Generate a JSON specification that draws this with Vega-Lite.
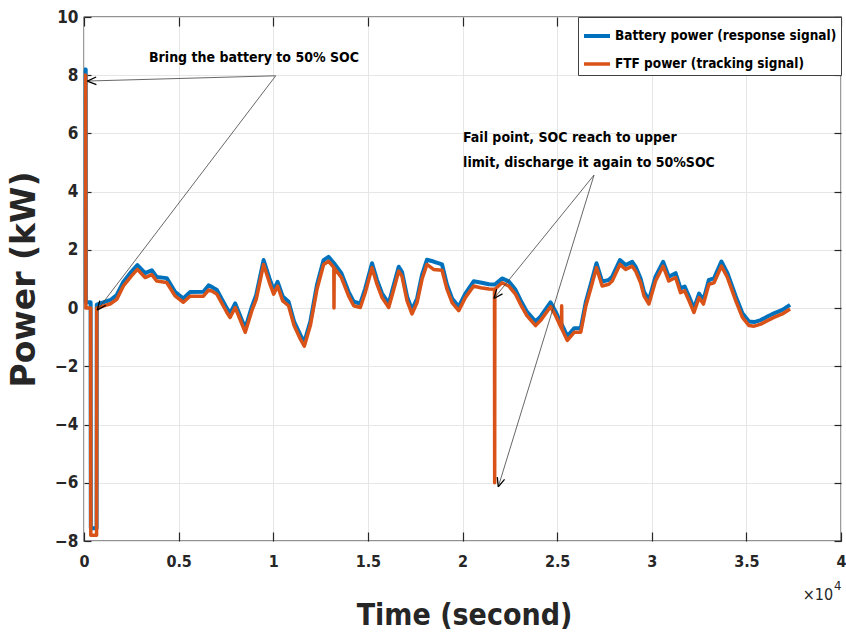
{
  "$schema": "https://vega.github.io/schema/vega-lite/v6.json",
  "width": 757,
  "height": 524,
  "autosize": {"type": "none"},
  "padding": {"left": 84, "top": 17, "right": 5, "bottom": 100},
  "background": "white",
  "config": {
    "view": {"stroke": "#262626", "strokeWidth": 1.3},
    "font": "DejaVu Sans Condensed, Liberation Sans, sans-serif"
  },
  "datasets": {
    "power": [
      {"t": 0, "b": 8.2, "f": 8.0},
      {"t": 90, "b": 8.2, "f": 8.0},
      {"t": 100, "b": 0.2, "f": 0.0},
      {"t": 350, "b": 0.2, "f": 0.0},
      {"t": 360, "b": -7.56, "f": -7.8},
      {"t": 665, "b": -7.56, "f": -7.8},
      {"t": 675, "b": 0.12, "f": 0.0},
      {"t": 1020, "b": 0.2, "f": 0.07},
      {"t": 1400, "b": 0.28, "f": 0.15},
      {"t": 1730, "b": 0.45, "f": 0.3},
      {"t": 2080, "b": 0.9, "f": 0.76},
      {"t": 2500, "b": 1.25, "f": 1.1},
      {"t": 2820, "b": 1.48, "f": 1.33},
      {"t": 3230, "b": 1.2, "f": 1.05},
      {"t": 3580, "b": 1.3, "f": 1.15},
      {"t": 3840, "b": 1.07, "f": 0.93},
      {"t": 4370, "b": 1.03, "f": 0.88},
      {"t": 4810, "b": 0.56, "f": 0.42},
      {"t": 5250, "b": 0.33, "f": 0.2},
      {"t": 5600, "b": 0.55, "f": 0.41},
      {"t": 6310, "b": 0.56, "f": 0.41},
      {"t": 6580, "b": 0.78, "f": 0.62},
      {"t": 6750, "b": 0.73, "f": 0.59},
      {"t": 7020, "b": 0.62, "f": 0.48},
      {"t": 7550, "b": -0.01, "f": -0.15},
      {"t": 7720, "b": -0.18, "f": -0.32},
      {"t": 7990, "b": 0.16, "f": 0.02},
      {"t": 8520, "b": -0.7, "f": -0.83},
      {"t": 8870, "b": 0.05, "f": -0.09},
      {"t": 9100, "b": 0.45, "f": 0.3},
      {"t": 9490, "b": 1.65, "f": 1.5},
      {"t": 9800, "b": 1.02, "f": 0.87},
      {"t": 10020, "b": 0.62, "f": 0.48},
      {"t": 10230, "b": 0.9, "f": 0.76},
      {"t": 10500, "b": 0.4, "f": 0.25},
      {"t": 10810, "b": 0.22, "f": 0.08},
      {"t": 11100, "b": -0.46, "f": -0.6},
      {"t": 11430, "b": -0.92, "f": -1.06},
      {"t": 11640, "b": -1.17, "f": -1.31},
      {"t": 11960, "b": -0.46, "f": -0.6},
      {"t": 12310, "b": 0.8, "f": 0.65},
      {"t": 12660, "b": 1.65, "f": 1.5},
      {"t": 12920, "b": 1.76, "f": 1.61},
      {"t": 13200, "b": 1.55, "f": 1.4},
      {"t": 13210, "b": 1.54, "f": 0.0},
      {"t": 13220, "b": 1.53, "f": 1.38},
      {"t": 13600, "b": 1.2, "f": 1.05},
      {"t": 13980, "b": 0.56, "f": 0.42},
      {"t": 14250, "b": 0.22, "f": 0.08},
      {"t": 14600, "b": 0.16, "f": 0.02},
      {"t": 14860, "b": 0.67, "f": 0.53},
      {"t": 15220, "b": 1.54, "f": 1.39},
      {"t": 15480, "b": 0.97, "f": 0.82},
      {"t": 15750, "b": 0.5, "f": 0.36},
      {"t": 16100, "b": 0.16, "f": 0.02},
      {"t": 16370, "b": 0.8, "f": 0.65},
      {"t": 16630, "b": 1.42, "f": 1.27},
      {"t": 16800, "b": 1.25, "f": 1.1},
      {"t": 17070, "b": 0.4, "f": 0.25},
      {"t": 17330, "b": -0.06, "f": -0.2},
      {"t": 17600, "b": 0.33, "f": 0.19},
      {"t": 17860, "b": 1.14, "f": 0.99},
      {"t": 18120, "b": 1.66, "f": 1.5},
      {"t": 18470, "b": 1.6, "f": 1.33},
      {"t": 18920, "b": 1.5, "f": 1.3},
      {"t": 19180, "b": 0.8, "f": 0.65},
      {"t": 19450, "b": 0.33, "f": 0.19},
      {"t": 19800, "b": 0.05, "f": -0.09},
      {"t": 20150, "b": 0.5, "f": 0.36},
      {"t": 20590, "b": 0.92, "f": 0.76},
      {"t": 20950, "b": 0.88, "f": 0.7},
      {"t": 21400, "b": 0.82, "f": 0.66},
      {"t": 21690, "b": 0.81, "f": 0.65},
      {"t": 21700, "b": 0.81, "f": -6.0},
      {"t": 21710, "b": 0.81, "f": 0.65},
      {"t": 22090, "b": 1.02, "f": 0.87},
      {"t": 22440, "b": 0.92, "f": 0.76},
      {"t": 22800, "b": 0.63, "f": 0.48},
      {"t": 23060, "b": 0.28, "f": 0.14},
      {"t": 23400, "b": -0.12, "f": -0.26},
      {"t": 23860, "b": -0.46, "f": -0.6},
      {"t": 24120, "b": -0.29, "f": -0.43},
      {"t": 24650, "b": 0.2, "f": 0.05},
      {"t": 24920, "b": -0.12, "f": -0.26},
      {"t": 25200, "b": -0.52, "f": -0.66},
      {"t": 25230, "b": -0.55, "f": -0.7},
      {"t": 25240, "b": -0.56, "f": 0.08},
      {"t": 25250, "b": -0.57, "f": -0.72},
      {"t": 25540, "b": -0.97, "f": -1.11},
      {"t": 25900, "b": -0.69, "f": -0.83},
      {"t": 26250, "b": -0.69, "f": -0.83},
      {"t": 26520, "b": 0.22, "f": 0.08},
      {"t": 26790, "b": 0.85, "f": 0.7},
      {"t": 27080, "b": 1.54, "f": 1.39},
      {"t": 27380, "b": 0.91, "f": 0.76},
      {"t": 27730, "b": 0.97, "f": 0.82},
      {"t": 27910, "b": 1.08, "f": 0.93},
      {"t": 28320, "b": 1.65, "f": 1.5},
      {"t": 28620, "b": 1.48, "f": 1.33},
      {"t": 28970, "b": 1.59, "f": 1.44},
      {"t": 29150, "b": 1.42, "f": 1.27},
      {"t": 29410, "b": 1.02, "f": 0.87},
      {"t": 29590, "b": 0.56, "f": 0.42},
      {"t": 29850, "b": 0.28, "f": 0.14},
      {"t": 30200, "b": 1.08, "f": 0.93},
      {"t": 30600, "b": 1.59, "f": 1.44},
      {"t": 30900, "b": 1.08, "f": 0.93},
      {"t": 31260, "b": 1.2, "f": 1.05},
      {"t": 31520, "b": 0.68, "f": 0.53},
      {"t": 31740, "b": 0.74, "f": 0.59},
      {"t": 31970, "b": 0.4, "f": 0.25},
      {"t": 32230, "b": -0.01, "f": -0.15},
      {"t": 32500, "b": 0.5, "f": 0.36},
      {"t": 32730, "b": 0.28, "f": 0.14},
      {"t": 33020, "b": 0.97, "f": 0.82},
      {"t": 33290, "b": 1.02, "f": 0.87},
      {"t": 33680, "b": 1.6, "f": 1.44},
      {"t": 34000, "b": 1.2, "f": 1.05},
      {"t": 34440, "b": 0.4, "f": 0.25},
      {"t": 34790, "b": -0.18, "f": -0.32},
      {"t": 35140, "b": -0.46, "f": -0.6},
      {"t": 35410, "b": -0.48, "f": -0.62},
      {"t": 35760, "b": -0.41, "f": -0.55},
      {"t": 36110, "b": -0.29, "f": -0.43},
      {"t": 36460, "b": -0.18, "f": -0.32},
      {"t": 36900, "b": -0.06, "f": -0.2},
      {"t": 37310, "b": 0.11, "f": -0.03}
    ],
    "arrows": [
      {"id": 1, "t": 10130, "p": 7.98, "t2": 174, "p2": 7.8},
      {"id": 2, "t": 10130, "p": 7.98, "t2": 703, "p2": -0.07},
      {"id": 3, "t": 26950, "p": 4.57, "t2": 21660, "p2": 0.33},
      {"id": 4, "t": 26950, "p": 4.57, "t2": 21890, "p2": -6.14}
    ],
    "notes": [
      {"label": "Bring the battery to 50% SOC", "t": 3435, "p": 8.59},
      {"label": "Fail point, SOC reach to upper", "t": 20030, "p": 5.83},
      {"label": "limit, discharge it again to 50%SOC", "t": 20030, "p": 4.97}
    ],
    "exponent": [
      {"base": "×10", "sup": "4", "t": 39580, "p": -10.03, "t2": 39630, "p2": -9.69}
    ]
  },
  "layer": [
    {
      "data": {"name": "power"},
      "transform": [{"fold": ["b", "f"], "as": ["series", "power"]}],
      "mark": {"type": "line", "strokeJoin": "round", "strokeCap": "butt"},
      "encoding": {
        "x": {
          "field": "t", "type": "quantitative",
          "scale": {"domain": [0, 40000], "nice": false, "zero": false},
          "axis": {
            "orient": "bottom",
            "values": [0, 5000, 10000, 15000, 20000, 25000, 30000, 35000, 40000],
            "labelExpr": "datum.value / 10000",
            "labelFlush": false,
            "grid": true, "gridColor": "#e6e6e6", "gridWidth": 1,
            "domain": false,
            "tickSize": -9, "tickColor": "#262626", "tickWidth": 1.2,
            "labelPadding": 21,
            "labelFont": "DejaVu Sans Condensed, Liberation Sans, sans-serif", "labelFontSize": 16, "labelFontWeight": "bold", "labelColor": "#262626",
            "title": "Time (second)",
            "titleFont": "DejaVu Sans Condensed, Liberation Sans, sans-serif", "titleFontSize": 30, "titleFontWeight": "bold", "titleColor": "#262626",
            "titleX": 380, "titleY": 74, "titleAlign": "center", "titleBaseline": "middle"
          }
        },
        "y": {
          "field": "power", "type": "quantitative",
          "scale": {"domain": [-8, 10], "nice": false, "zero": false},
          "axis": {
            "orient": "left",
            "values": [-8, -6, -4, -2, 0, 2, 4, 6, 8, 10],
            "grid": true, "gridColor": "#e6e6e6", "gridWidth": 1,
            "domain": false,
            "tickSize": -7, "tickColor": "#262626", "tickWidth": 1.2,
            "labelPadding": 13,
            "labelFont": "DejaVu Sans Condensed, Liberation Sans, sans-serif", "labelFontSize": 17, "labelFontWeight": "bold", "labelColor": "#262626",
            "title": "Power (kW)",
            "titleFont": "DejaVu Sans", "titleFontSize": 33, "titleFontWeight": "bold", "titleColor": "#262626",
            "titleAngle": 270, "titleX": -60, "titleY": 262, "titleAlign": "center", "titleBaseline": "middle"
          }
        },
        "color": {
          "field": "series", "type": "nominal",
          "scale": {"domain": ["b", "f"], "range": ["#0072BD", "#D95319"]},
          "legend": {
            "orient": "none", "legendX": 494, "legendY": 0,
            "title": null,
            "fillColor": "white", "strokeColor": "#404040",
            "padding": 4, "rowPadding": 5,
            "symbolType": "stroke", "symbolSize": 676, "symbolStrokeWidth": 2,
            "labelOffset": 3,
            "labelFont": "DejaVu Sans Condensed, Liberation Sans, sans-serif", "labelFontSize": 13.5, "labelFontWeight": "bold", "labelColor": "black",
            "labelLimit": 400,
            "labelExpr": "datum.label == 'b' ? 'Battery power (response signal)' : 'FTF power (tracking signal)'"
          }
        },
        "strokeWidth": {
          "field": "series", "type": "nominal",
          "scale": {"domain": ["b", "f"], "range": [4, 3.5]},
          "legend": null
        }
      }
    },
    {
      "data": {"name": "arrows"},
      "mark": {"type": "rule", "color": "#404040", "strokeWidth": 0.8},
      "encoding": {
        "x": {
          "field": "t", "type": "quantitative",
          "axis": {
            "orient": "top", "labels": false, "title": null, "grid": false, "domain": false,
            "values": [0, 5000, 10000, 15000, 20000, 25000, 30000, 35000, 40000],
            "tickSize": -9, "tickColor": "#262626", "tickWidth": 1.2
          }
        },
        "x2": {"field": "t2"},
        "y": {
          "field": "p", "type": "quantitative",
          "axis": {
            "orient": "right", "labels": false, "title": null, "grid": false, "domain": false,
            "values": [-8, -6, -4, -2, 0, 2, 4, 6, 8, 10],
            "tickSize": -7, "tickColor": "#262626", "tickWidth": 1.2
          }
        },
        "y2": {"field": "p2"}
      }
    },
    {
      "data": {"name": "arrows"},
      "transform": [{"filter": "datum.id == 1"}],
      "mark": {"type": "point", "shape": "M0,0L-1,-0.42M0,0L-1,0.42", "size": 324, "angle": 178.4, "filled": false, "color": "black", "strokeWidth": 1.3, "opacity": 1},
      "encoding": {
        "x": {"field": "t2", "type": "quantitative", "axis": null},
        "y": {"field": "p2", "type": "quantitative", "axis": null}
      }
    },
    {
      "data": {"name": "arrows"},
      "transform": [{"filter": "datum.id == 2"}],
      "mark": {"type": "point", "shape": "M0,0L-1,-0.42M0,0L-1,0.42", "size": 324, "angle": 127.3, "filled": false, "color": "black", "strokeWidth": 1.3, "opacity": 1},
      "encoding": {
        "x": {"field": "t2", "type": "quantitative", "axis": null},
        "y": {"field": "p2", "type": "quantitative", "axis": null}
      }
    },
    {
      "data": {"name": "arrows"},
      "transform": [{"filter": "datum.id == 3"}],
      "mark": {"type": "point", "shape": "M0,0L-1,-0.42M0,0L-1,0.42", "size": 324, "angle": 129.0, "filled": false, "color": "black", "strokeWidth": 1.3, "opacity": 1},
      "encoding": {
        "x": {"field": "t2", "type": "quantitative", "axis": null},
        "y": {"field": "p2", "type": "quantitative", "axis": null}
      }
    },
    {
      "data": {"name": "arrows"},
      "transform": [{"filter": "datum.id == 4"}],
      "mark": {"type": "point", "shape": "M0,0L-1,-0.42M0,0L-1,0.42", "size": 324, "angle": 107.1, "filled": false, "color": "black", "strokeWidth": 1.3, "opacity": 1},
      "encoding": {
        "x": {"field": "t2", "type": "quantitative", "axis": null},
        "y": {"field": "p2", "type": "quantitative", "axis": null}
      }
    },
    {
      "data": {"name": "notes"},
      "mark": {"type": "text", "align": "left", "baseline": "middle", "font": "DejaVu Sans Condensed, Liberation Sans, sans-serif", "fontSize": 14, "fontWeight": "bold", "color": "black"},
      "encoding": {
        "x": {"field": "t", "type": "quantitative", "axis": null},
        "y": {"field": "p", "type": "quantitative", "axis": null},
        "text": {"field": "label"}
      }
    },
    {
      "data": {"name": "exponent"},
      "mark": {"type": "text", "align": "right", "baseline": "alphabetic", "font": "DejaVu Sans Condensed, Liberation Sans, sans-serif", "fontSize": 16, "color": "#262626"},
      "encoding": {
        "x": {"field": "t", "type": "quantitative", "axis": null},
        "y": {"field": "p", "type": "quantitative", "axis": null},
        "text": {"field": "base"}
      }
    },
    {
      "data": {"name": "exponent"},
      "mark": {"type": "text", "align": "left", "baseline": "alphabetic", "font": "DejaVu Sans Condensed, Liberation Sans, sans-serif", "fontSize": 13, "color": "#262626"},
      "encoding": {
        "x": {"field": "t2", "type": "quantitative", "axis": null},
        "y": {"field": "p2", "type": "quantitative", "axis": null},
        "text": {"field": "sup"}
      }
    }
  ],
  "resolve": {"axis": {"x": "independent", "y": "independent"}}
}
